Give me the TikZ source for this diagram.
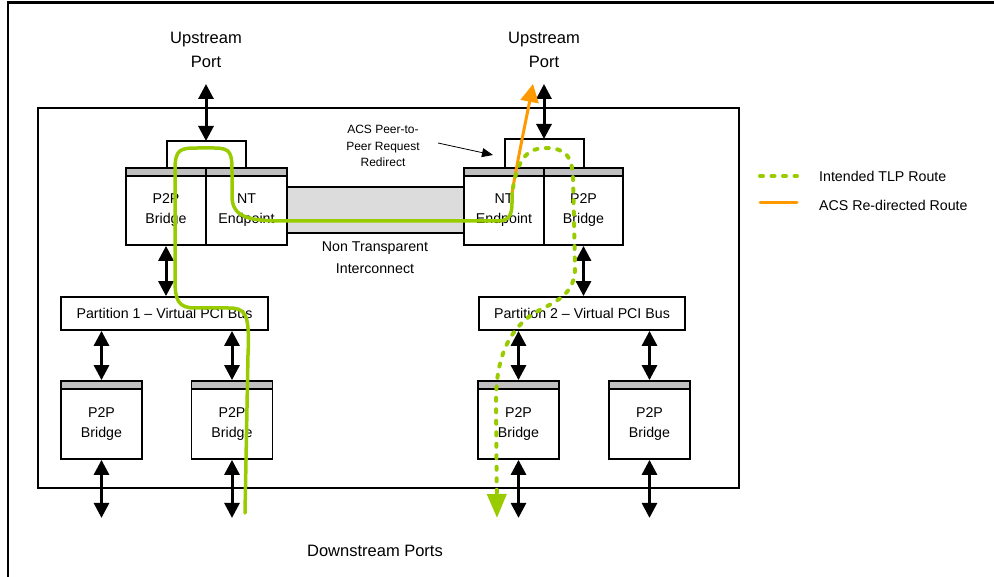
\documentclass[tikz,border=0pt]{standalone}
\usepackage{fontspec}
\setmainfont{Liberation Sans}
\usetikzlibrary{arrows.meta}
\definecolor{tlpgreen}{HTML}{99CC00}
\definecolor{acsorange}{HTML}{FF9900}
\definecolor{bargray}{HTML}{C0C0C0}
\definecolor{linkgray}{HTML}{DCDCDC}
\begin{document}
\begin{tikzpicture}[x=1pt,y=-1pt,
  bigtxt/.style={font=\fontsize{16.5}{24}\selectfont, align=center, inner sep=0},
  txt/.style={font=\fontsize{14.2}{20}\selectfont, align=center, inner sep=0},
  smalltxt/.style={font=\fontsize{12}{16.5}\selectfont, align=center, inner sep=0},
  bridgebox/.style={draw, line width=1.8pt, inner sep=0, minimum width=80pt, minimum height=77pt,
    path picture={\fill[bargray] (path picture bounding box.north west) rectangle ([yshift=-8pt]path picture bounding box.north east);
      \draw[line width=1.2pt] ([yshift=-8pt]path picture bounding box.north west) -- ([yshift=-8pt]path picture bounding box.north east);},
    label={[txt, yshift=-4pt]center:#1}},
  lowbox/.style={bridgebox={#1}, minimum width=81pt, minimum height=78pt},
  partbox/.style={draw, line width=1.8pt, inner sep=0, minimum width=207pt, minimum height=33pt, font=\fontsize{14.2}{20}\selectfont},
  dbl/.style={line width=3pt, {Triangle[width=15pt,length=15pt]}-{Triangle[width=15pt,length=15pt]}},
  bracket/.style={line width=2.8pt},
  tlpsolid/.style={draw=tlpgreen, line width=3.5pt, line cap=round, line join=round},
  tlpdots/.style={draw=tlpgreen, line width=4pt, line cap=round, dash pattern=on 3pt off 8.5pt},
  acsline/.style={draw=acsorange, line width=3pt, line cap=round}
]
\useasboundingbox (0,0) rectangle (994,577);
% outer frame
\draw[line width=2.5pt] (8,577) -- (8,2.5) -- (994,2.5);
% switch box
\draw[line width=1.5pt] (38,108) rectangle (739,488);

% interconnect
\node[draw, line width=1.5pt, fill=linkgray, minimum width=177pt, minimum height=46pt, inner sep=0] (ic) at (375.5,210) {};

% top blocks
\node[bridgebox={P2P\\Bridge}] (tl1) at (166,206.5) {};
\node[bridgebox={NT\\Endpoint}, minimum width=81pt] (tl2) at (246.5,206.5) {};
\node[bridgebox={NT\\Endpoint}] (tr1) at (504,206.5) {};
\node[bridgebox={P2P\\Bridge}, minimum width=79pt] (tr2) at (583.5,206.5) {};

% brackets
\coordinate (bl1) at (167,168); \coordinate (bl2) at (246,168);
\coordinate (br1) at (505,168); \coordinate (br2) at (584,168);
\draw[bracket] (bl1) |- (206,141) coordinate (bltop) -| (bl2);
\draw[bracket] (br1) |- (544,139) coordinate (brtop) -| (br2);

% upstream ports
\node[bigtxt] (up1) at (206,50) {Upstream\\Port};
\node[bigtxt] (up2) at (544,50) {Upstream\\Port};
\coordinate (u1) at (206,84);
\coordinate (u2) at (544,84);
\draw[dbl] (u1) -- (bltop);
\draw[dbl] (u2) -- (brtop);

% partitions
\node[partbox] (p1) at (164.5,313.5) {Partition 1 -- Virtual PCI Bus};
\node[partbox, minimum width=206pt] (p2) at (582,313.5) {Partition 2 -- Virtual PCI Bus};
\draw[dbl] (tl1.south) -- (tl1.south |- p1.north);
\draw[dbl] (tr2.south) -- (tr2.south |- p2.north);

% lower blocks
\node[lowbox={P2P\\Bridge}] (l1) at (101.5,420) {};
\node[lowbox={P2P\\Bridge}] (l2) at (232,420) {};
\node[lowbox={P2P\\Bridge}] (r1) at (518.5,420) {};
\node[lowbox={P2P\\Bridge}] (r2) at (649.5,420) {};
\foreach \b/\p in {l1/p1,l2/p1,r1/p2,r2/p2}{
  \draw[dbl] (\b.north |- \p.south) -- (\b.north);
  \coordinate (\b-d) at ([yshift=-58pt]\b.south);
  \draw[dbl] (\b.south) -- (\b-d);
}

% labels
\node[txt, font=\fontsize{14.2}{22}\selectfont] (nti) at (375,258) {Non Transparent\\Interconnect};
\node[smalltxt] (acs) at (383,146) {ACS Peer-to-\\Peer Request\\Redirect};
\coordinate (acsfrom) at (438,143);
\coordinate (acsto) at (493,155);
\draw[line width=0.8pt, -{Triangle[width=9pt,length=11pt]}] (acsfrom) -- (acsto);
\node[bigtxt] (down) at (375,551) {Downstream Ports};

% routes
\coordinate (start) at (245,513);
\coordinate (junc) at (512,193);
\coordinate (acsend) at (533,84);
\coordinate (tlpend) at (497,518);
\draw[acsline, -{Triangle[width=18pt,length=18pt]}] (junc) .. controls (518,158) and (527,115) .. (acsend);
\draw[tlpsolid] (start) -- (248,355) .. controls (250,312) and (245,308) .. (228,308) -- (195,308)
  .. controls (178,308) and (175,300) .. (175,280) -- (175,170)
  .. controls (175,149) and (180,148) .. (198,148) -- (214,148)
  .. controls (231,148) and (232,153) .. (232,172) -- (232,196)
  .. controls (232,218) and (250,221) .. (285,221) -- (498,221)
  .. controls (509,221) and (512,215) .. (512,203) -- (junc);
\draw[tlpdots, -{Triangle[width=19pt,length=24pt]}] (513,188) .. controls (518,156) and (530,148) .. (545,148)
  .. controls (566,148) and (572,156) .. (573,178) -- (575,268)
  .. controls (575,300) and (546,304) .. (530,316) .. controls (506,334) and (496,362) .. (496,402) -- (tlpend);

% legend
\coordinate (lg1a) at (760,176); \coordinate (lg1b) at (797,176);
\coordinate (lg2a) at (760,203); \coordinate (lg2b) at (797,203);
\draw[tlpdots] (lg1a) -- (lg1b);
\draw[acsline] (lg2a) -- (lg2b);
\node[txt, anchor=west] (lgt1) at (819,176) {Intended TLP Route};
\node[txt, anchor=west] (lgt2) at (819,205) {ACS Re-directed Route};
\end{tikzpicture}
\end{document}
